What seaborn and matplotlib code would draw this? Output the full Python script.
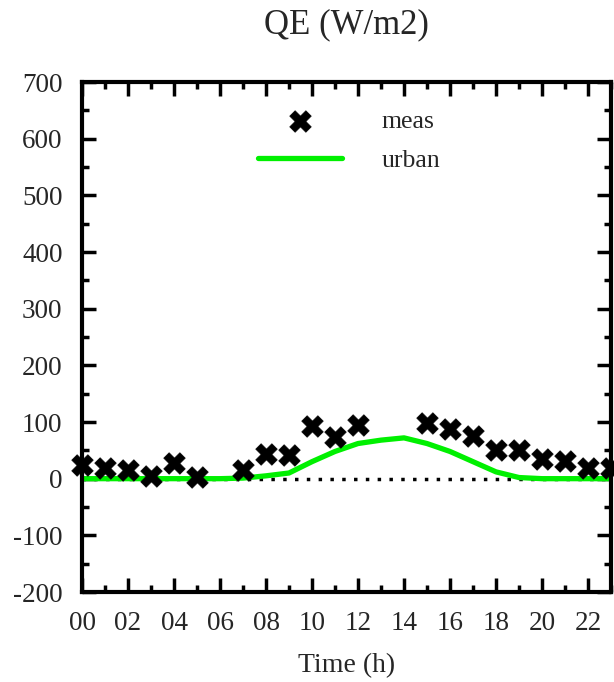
import numpy as np
import pandas as pd
import matplotlib
matplotlib.use("Agg")
import matplotlib.pyplot as plt
import seaborn as sns
from matplotlib.ticker import MultipleLocator, FuncFormatter

hours = list(range(24))
meas = [24, 19, 15, 4, 27, 3, np.nan, 15, 43, 42, 93, 74,
        95, np.nan, np.nan, 99, 88, 75, 51, 51, 34, 31, 19, 19]
urban = [0, 0, 0, 0, 0, 0, 0, 1, 5, 10, 30, 48,
         62, 68, 72, 62, 48, 30, 12, 2, 0, 0, 0, 0]

df = pd.DataFrame({"hour": hours, "meas": meas, "urban": urban})

sns.set_theme(style="white")
plt.rcParams["font.family"] = ["Liberation Serif", "DejaVu Serif"]
plt.rcParams["axes.unicode_minus"] = False

fig = plt.figure(figsize=(6.14, 6.82), dpi=100)
ax = fig.add_axes([82/614, 1-592/682, 529/614, 510/682])

ax.axhline(0, color="black", linestyle=(0, (1, 2.4)), linewidth=2.5, zorder=1)
sns.lineplot(data=df, x="hour", y="urban", ax=ax, color="#00f000", linewidth=3.8,
             label="urban", zorder=2)
sns.scatterplot(data=df, x="hour", y="meas", ax=ax, marker="X", s=240,
                color="black", edgecolor="black", linewidth=0.5, label="meas",
                zorder=3, clip_on=False)

ax.set_xlim(0, 23)
ax.set_ylim(-200, 700)
ax.xaxis.set_major_locator(MultipleLocator(2))
ax.xaxis.set_minor_locator(MultipleLocator(1))
ax.yaxis.set_major_locator(MultipleLocator(100))
ax.yaxis.set_minor_locator(MultipleLocator(50))
ax.xaxis.set_major_formatter(FuncFormatter(lambda v, p: f"{int(round(v)):02d}"))

ax.tick_params(which="both", direction="in", top=True, right=True,
               bottom=True, left=True, width=2.5, color="black")
ax.tick_params(which="major", length=10, labelsize=19.5)
ax.tick_params(axis="y", which="major", pad=14)
ax.tick_params(axis="x", which="major", pad=14)
ax.tick_params(which="minor", length=5)
for s in ax.spines.values():
    s.set_linewidth(3)
    s.set_color("black")

ax.set_xlabel("Time (h)", fontsize=20, labelpad=12)
ax.set_ylabel("")
ax.set_title("QE (W/m2)", fontsize=25, pad=35)

h, l = ax.get_legend_handles_labels()
order = [l.index("meas"), l.index("urban")]
ax.legend([h[i] for i in order], [l[i] for i in order], loc="upper left",
          bbox_to_anchor=(0.308, 0.97), frameon=False, fontsize=18.5,
          handlelength=3.27, handletextpad=1.55, labelspacing=0.6, borderpad=0)

fig.savefig("out.png", dpi=100)
